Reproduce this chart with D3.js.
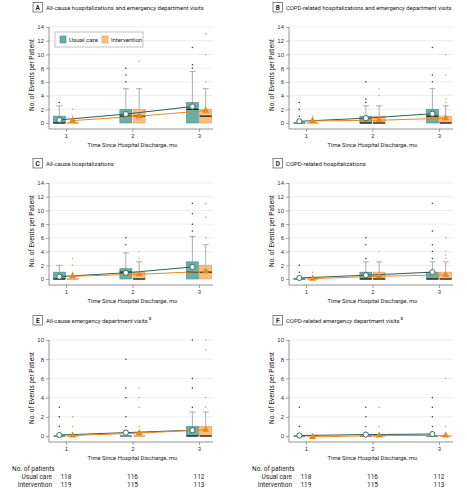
<!DOCTYPE html>
<html><head><meta charset="utf-8">
<script src="https://cdn.jsdelivr.net/npm/d3@7"></script>
<style>body{margin:0;background:#fff}svg{display:block;font-family:"Liberation Sans Narrow",Roboto,"Open Sans",sans-serif}</style>
</head><body><svg id="c" width="467" height="492"></svg>
<script>
// ---------- DATA ----------
const months = [1, 2, 3];
const letters = ["A", "B", "C", "D", "E", "F"];
const titles = [
  "All-cause hospitalizations and emergency department visits",
  "COPD-related hospitalizations and emergency department visits",
  "All-cause hospitalizations",
  "COPD-related hospitalizations",
  "All-cause emergency department visits",
  "COPD-related emergency department visits"
];
const titleSup = ["", "", "", "", "a", "a"];
const yTicksAD = [0, 2, 4, 6, 8, 10, 12, 14];
const yTicksEF = [0, 2, 4, 6, 8, 10];
const seriesNames = ["Usual care", "Intervention"];
const patientsUsual = [118, 116, 112];
const patientsIntervention = [119, 115, 113];

// box rows: [q1, median, q3, upper whisker] per month
const A_usual_box = [[0, 0, 1, 2.5], [0, 1, 2, 5], [0, 2, 3, 7.5]];
const A_usual_mean = [0.45, 1.3, 2.4];
const A_usual_out = [[3], [6, 7, 8], [8, 8.5, 11]];
const A_int_box = [[0, 0, 0, 0], [0, 1, 2, 5], [0, 1, 2, 5]];
const A_int_mean = [0.35, 1.0, 1.8];
const A_int_out = [[1, 2], [9], [6, 10, 13]];

const B_usual_box = [[0, 0, 0, 0], [0, 0, 1, 2.5], [0, 1, 2, 5]];
const B_usual_mean = [0.25, 0.7, 1.35];
const B_usual_out = [[1, 2, 3], [3, 3.5, 6], [6, 7, 11]];
const B_int_box = [[0, 0, 0, 0], [0, 0, 1, 2.5], [0, 0, 1, 2.5]];
const B_int_mean = [0.3, 0.4, 0.7];
const B_int_out = [[1], [4, 5], [3, 3.5, 7, 10]];

const C_usual_box = [[0, 0, 1, 2], [0, 1, 1.5, 3.8], [0, 1, 2.5, 6.2]];
const C_usual_mean = [0.35, 0.9, 1.75];
const C_usual_out = [[], [5, 6], [7, 8, 9.5, 11]];
const C_int_box = [[0, 0, 0, 0], [0, 0, 1, 2.5], [0, 1, 2, 5]];
const C_int_mean = [0.4, 0.7, 1.1];
const C_int_out = [[1, 2, 3], [3, 4], [6, 9, 11]];

const D_usual_box = [[0, 0, 0, 0], [0, 0, 1, 2.5], [0, 0, 1, 2.5]];
const D_usual_mean = [0.15, 0.55, 1.0];
const D_usual_out = [[1, 2], [3, 5, 6], [3, 4, 5, 7, 11]];
const D_int_box = [[0, 0, 0, 0], [0, 0, 1, 2.5], [0, 0, 1, 2.5]];
const D_int_mean = [0.05, 0.4, 0.6];
const D_int_out = [[1], [4], [3, 3.5, 4, 6]];

const E_usual_box = [[0, 0, 0, 0], [0, 0, 0, 0], [0, 0, 1, 2.5]];
const E_usual_mean = [0.1, 0.35, 0.6];
const E_usual_out = [[1, 2, 3], [1, 2, 4, 5, 8], [3, 5, 6, 10]];
const E_int_box = [[0, 0, 0, 0], [0, 0, 0, 0], [0, 0, 1, 2.5]];
const E_int_mean = [0.05, 0.3, 0.65];
const E_int_out = [[1, 2], [1, 3, 4, 5], [3, 4, 9, 10]];

const F_usual_box = [[0, 0, 0, 0], [0, 0, 0, 0], [0, 0, 0, 0]];
const F_usual_mean = [0.05, 0.15, 0.2];
const F_usual_out = [[1, 3], [1, 2, 3], [1, 2, 3, 4]];
const F_int_box = [[0, 0, 0, 0], [0, 0, 0, 0], [0, 0, 0, 0]];
const F_int_mean = [-0.1, 0.05, 0.05];
const F_int_out = [[], [1, 3], [1, 6]];

// ---------- BUILD ----------
const panels = [
  {u: [A_usual_box, A_usual_mean, A_usual_out], i: [A_int_box, A_int_mean, A_int_out]},
  {u: [B_usual_box, B_usual_mean, B_usual_out], i: [B_int_box, B_int_mean, B_int_out]},
  {u: [C_usual_box, C_usual_mean, C_usual_out], i: [C_int_box, C_int_mean, C_int_out]},
  {u: [D_usual_box, D_usual_mean, D_usual_out], i: [D_int_box, D_int_mean, D_int_out]},
  {u: [E_usual_box, E_usual_mean, E_usual_out], i: [E_int_box, E_int_mean, E_int_out]},
  {u: [F_usual_box, F_usual_mean, F_usual_out], i: [F_int_box, F_int_mean, F_int_out]}
];
const titleWidths = [158, 166, 68, 80, 102, 114];

const svg = d3.select("#c");
// fit text to a width by adjusting its font size
function fit(sel, w, base) {
  const n = sel.node().getComputedTextLength();
  const fs = Math.min(base * 1.15, base * w / n);
  sel.attr("font-size", fs);
  return fs;
}
const colStyle = {
  u: {fill: "#6aaeaa", stroke: "#4b8d89", line: "#2d5e5b", dot: "#333"},
  i: {fill: "#fbbf7c", stroke: "#dba061", line: "#e8891f", dot: "#f0a040"}
};
const rowTop = [27, 183, 340];
const colLeft = [49, 289];
const plotW = 164, plotH = 102;
const off = 0.1, boxHalf = 6;

panels.forEach((p, k) => {
  const row = Math.floor(k / 2), col = k % 2;
  const left = colLeft[col], top = rowTop[row];
  const isEF = row === 2;
  const ymax = isEF ? 10 : 14;
  const ymin = isEF ? -0.625 : -0.875;
  const ticks = isEF ? yTicksEF : yTicksAD;
  const x = d3.scaleLinear().domain([0.745, 3.21]).range([left, left + plotW]);
  const y = d3.scaleLinear().domain([ymin, ymax]).range([top + plotH, top]);
  const g = svg.append("g");

  // title
  const tx = left - 16, ty = top - 17;
  g.append("rect").attr("x", tx).attr("y", ty - 7.5).attr("width", 9.5).attr("height", 9.5)
    .attr("fill", "#fff").attr("stroke", "#555").attr("stroke-width", 0.7);
  g.append("text").attr("x", tx + 4.75).attr("y", ty).attr("text-anchor", "middle")
    .attr("font-size", 6.5).attr("font-weight", "bold").attr("fill", "#222").text(letters[k]);
  const tt = g.append("text").attr("x", tx + 13).attr("y", ty).attr("font-size", 7).attr("fill", "#222").text(titles[k]);
  fit(tt, titleWidths[k], 7);
  if (titleSup[k]) g.append("text").attr("x", tx + 13 + tt.node().getComputedTextLength() + 1).attr("y", ty - 3)
    .attr("font-size", 4.5).attr("fill", "#222").text(titleSup[k]);

  // grid
  g.selectAll(".grid").data(ticks.filter(t => t > 0)).enter().append("line")
    .attr("x1", left).attr("x2", left + plotW).attr("y1", d => y(d)).attr("y2", d => y(d))
    .attr("stroke", "#e2e2e2").attr("stroke-width", 0.6);

  // axes
  const ya = g.append("g").attr("transform", `translate(${left},0)`)
    .call(d3.axisLeft(y).tickValues(ticks).tickSize(3).tickPadding(2));
  ya.select(".domain").attr("d", `M0,${y(ymax)}V${top + plotH}`).attr("stroke", "#666").attr("stroke-width", 0.7);
  ya.selectAll(".tick line").attr("stroke", "#666").attr("stroke-width", 0.6);
  ya.selectAll("text").attr("font-size", 6).attr("fill", "#333").attr("font-family", null);
  const xa = g.append("g").attr("transform", `translate(0,${top + plotH})`)
    .call(d3.axisBottom(x).tickValues(months).tickFormat(d3.format("d")).tickSize(3).tickPadding(2));
  xa.select(".domain").attr("d", `M${left},0H${left + plotW}`).attr("stroke", "#666").attr("stroke-width", 0.7);
  xa.selectAll(".tick line").attr("stroke", "#666").attr("stroke-width", 0.6);
  xa.selectAll("text").attr("font-size", 6).attr("fill", "#333").attr("font-family", null);

  const xl = g.append("text").attr("x", x(2)).attr("y", top + plotH + 18).attr("text-anchor", "middle")
    .attr("font-size", 6.5).attr("fill", "#222").text("Time Since Hospital Discharge, mo");
  fit(xl, 90, 6.5);
  const yl = g.append("text").attr("transform", `translate(${left - 15},${top + plotH / 2 - 3}) rotate(-90)`)
    .attr("text-anchor", "middle").attr("font-size", 6.5).attr("fill", "#222").text("No. of Events per Patient");
  fit(yl, 72, 6.5);

  ["u", "i"].forEach(s => {
    const [box, mean, outs] = p[s];
    const st = colStyle[s];
    const dx = s === "u" ? -off : off;
    months.forEach((m, j) => {
      const cx = x(m + dx);
      const [q1, med, q3, wh] = box[j];
      if (wh > q3) {
        g.append("line").attr("x1", cx).attr("x2", cx).attr("y1", y(q3)).attr("y2", y(wh))
          .attr("stroke", "#8a8a8a").attr("stroke-width", 0.7);
        g.append("line").attr("x1", cx - 3).attr("x2", cx + 3).attr("y1", y(wh)).attr("y2", y(wh))
          .attr("stroke", "#8a8a8a").attr("stroke-width", 0.7);
      }
      if (q3 > q1) {
        g.append("rect").attr("x", cx - boxHalf).attr("y", y(q3)).attr("width", boxHalf * 2)
          .attr("height", y(q1) - y(q3)).attr("fill", st.fill).attr("stroke", st.stroke).attr("stroke-width", 0.6);
      }
      g.append("line").attr("x1", cx - boxHalf).attr("x2", cx + boxHalf).attr("y1", y(med)).attr("y2", y(med))
        .attr("stroke", q3 > q1 ? "#1a1a1a" : st.line).attr("stroke-width", 1.3);
      g.selectAll(null).data(outs[j]).enter().append("circle")
        .attr("cx", cx).attr("cy", d => y(d)).attr("r", 0.75).attr("fill", st.dot);
    });
  });
  ["u", "i"].forEach(s => {
    const mean = p[s][1];
    const st = colStyle[s];
    const dx = s === "u" ? -off : off;
    const line = d3.line().x((d, j) => x(months[j] + dx)).y(d => y(d));
    g.append("path").attr("d", line(mean)).attr("fill", "none").attr("stroke", st.line).attr("stroke-width", 1);
  });
  ["u", "i"].forEach(s => {
    const mean = p[s][1];
    const dx = s === "u" ? -off : off;
    if (s === "u") {
      g.selectAll(null).data(mean).enter().append("circle")
        .attr("cx", (d, j) => x(months[j] + dx)).attr("cy", d => y(d)).attr("r", 2.6)
        .attr("fill", "#fff").attr("stroke", "#2d5e5b").attr("stroke-width", 0.9);
    } else {
      g.selectAll(null).data(mean).enter().append("path")
        .attr("transform", (d, j) => `translate(${x(months[j] + dx)},${y(d)})`)
        .attr("d", d3.symbol(d3.symbolTriangle, 22)).attr("fill", "#e8891f");
    }
  });

  if (k === 0) {
    const lg = g.append("g");
    lg.append("rect").attr("x", 55).attr("y", 32).attr("width", 88).attr("height", 15)
      .attr("fill", "#fff").attr("stroke", "#999").attr("stroke-width", 0.6);
    [[60, "u", 29], [102, "i", 31]].forEach(([lx, s, w], idx) => {
      lg.append("rect").attr("x", lx).attr("y", 36).attr("width", 6).attr("height", 7)
        .attr("fill", colStyle[s].fill).attr("stroke", colStyle[s].stroke).attr("stroke-width", 0.6);
      const lt = lg.append("text").attr("x", lx + 9).attr("y", 42).attr("font-size", 6.5).attr("fill", "#222").text(seriesNames[idx]);
      fit(lt, w, 6.5);
    });
  }

  if (row === 2) {
    const labX = col === 0 ? 12 : 252;
    const rX = col === 0 ? 52 : 292;
    g.append("text").attr("x", labX).attr("y", 471).attr("font-size", 6.5).attr("fill", "#222").text("No. of patients");
    [[patientsUsual, 479, seriesNames[0]], [patientsIntervention, 486.5, seriesNames[1]]].forEach(([arr, yy, nm]) => {
      g.append("text").attr("x", rX).attr("y", yy).attr("text-anchor", "end").attr("font-size", 6.5).attr("fill", "#222").text(nm);
      g.selectAll(null).data(arr).enter().append("text")
        .attr("x", (d, j) => x(months[j])).attr("y", yy).attr("text-anchor", "middle")
        .attr("font-size", 6.5).attr("fill", "#222").text(d => d);
    });
  }
});
</script></body></html>
